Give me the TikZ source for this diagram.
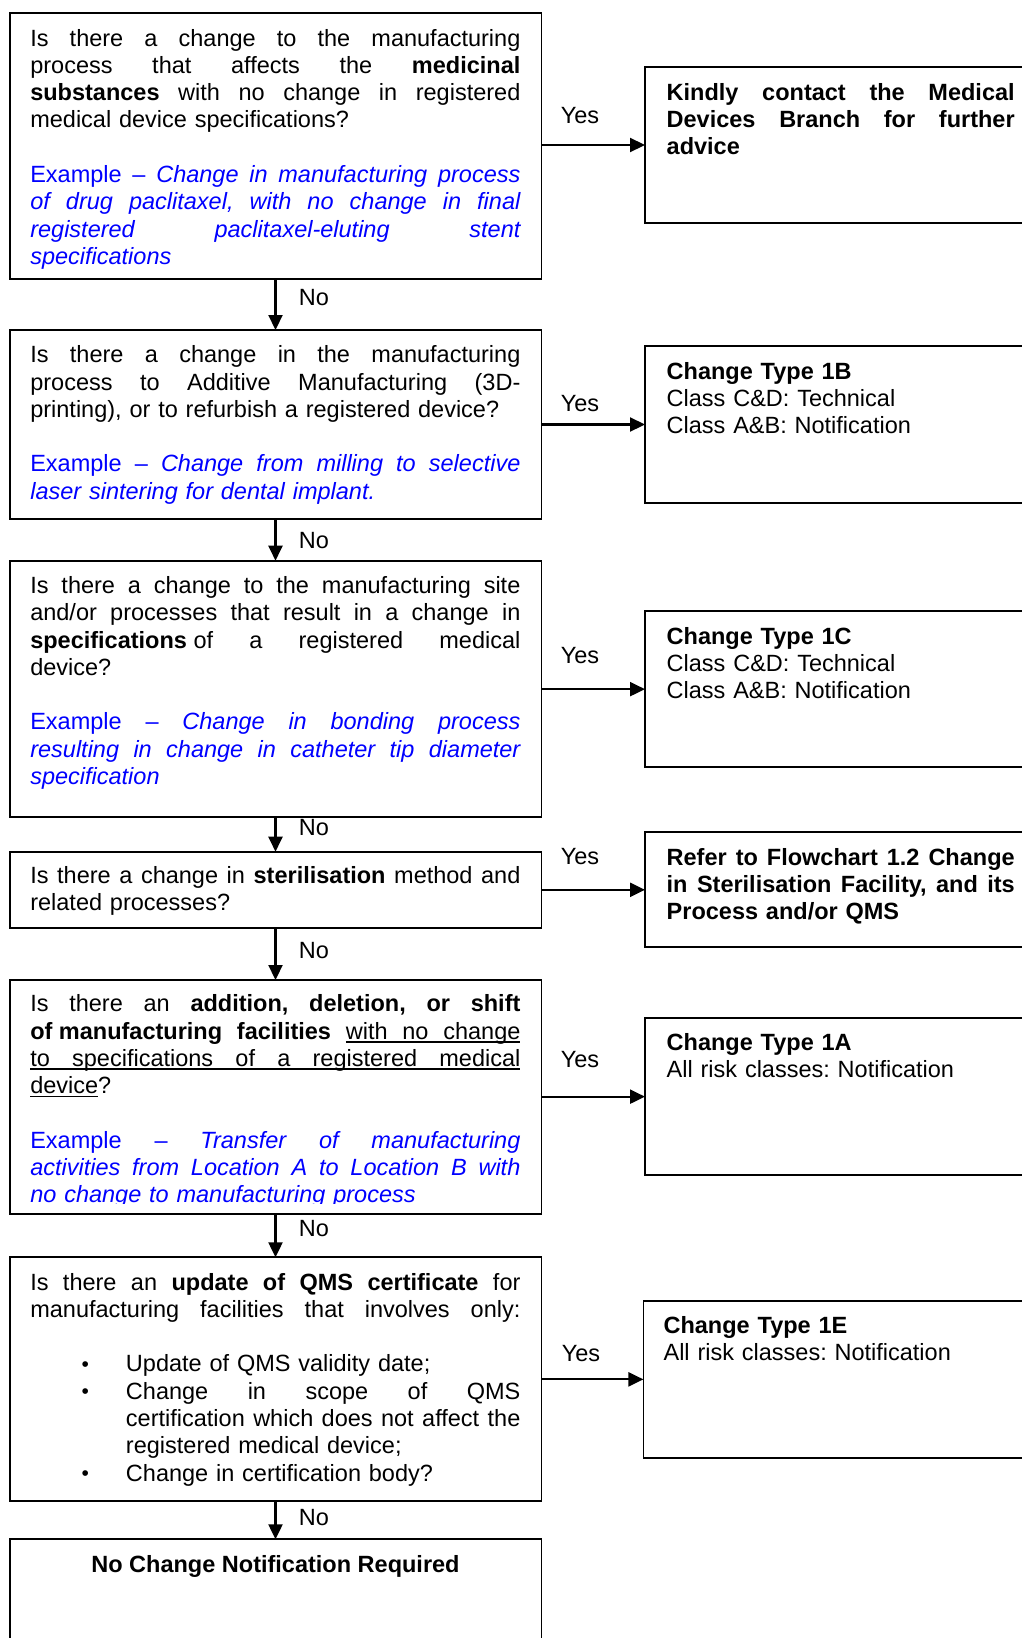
\documentclass[tikz,border=0pt]{standalone}
\usepackage{fontspec}
\setmainfont{Liberation Sans}
\usetikzlibrary{arrows.meta}
\definecolor{exblue}{RGB}{0,0,255}
% a line stretched to the full text width: every interword space grows equally
\newcommand\jline[1]{\makebox[\linewidth][s]{\spaceskip=\fontdimen2\font plus 1fil\relax\xspaceskip=\spaceskip #1}}
\newcommand\jwide[2]{\makebox[#1][s]{\spaceskip=\fontdimen2\font plus 1fil\relax\xspaceskip=\spaceskip #2}}
% blue example text, upright and italic
\newcommand\exa[1]{\textcolor{exblue}{#1}}
\newcommand\exi[1]{\textcolor{exblue}{\itshape #1}}
% underlined word and underlined stretchable gap at a fixed depth
\newcommand\ulword[1]{\leavevmode\setbox0\hbox{#1}\rlap{\rule[-3.4pt]{\wd0}{1.5pt}}\box0}
\newcommand\ulgap{\leaders\hrule height -1.9pt depth 3.4pt\hfill}
% bullet list lines with hanging indent
\newcommand\bul{\hspace*{51.2pt}\makebox[44.5pt][l]{\raisebox{0.5pt}{\fontsize{21pt}{21pt}\selectfont\textbullet}}}
\newcommand\bind{\hspace*{95.7pt}}
\newcommand\blank{\\[27.3pt]}
\newcommand\bodyfont{\fontsize{23.5pt}{27.3pt}\selectfont\frenchspacing}

\tikzset{
  box/.style={draw=black, line width=1.8pt, rectangle, inner sep=0pt, outer sep=0pt, anchor=north west},
  qtext/.style={anchor=base west, inner sep=0pt, outer sep=0pt, align=left, text width=490.1pt,
                font=\bodyfont},
  atext/.style={qtext, text width=348pt},
  lbl/.style={anchor=base, inner sep=0pt, font=\bodyfont},
  flow/.style={line width=2.2pt, -{Triangle[length=15pt,width=14pt]}},
}

\begin{document}
\begin{tikzpicture}[x=1pt,y=-1pt]
\useasboundingbox (0,0) rectangle (1022,1638);
\fill[white] (0,0) rectangle (1022,1638);
\clip (0,0) rectangle (1022,1638);

% question boxes (left column)
\node[box, minimum width=531.8pt, minimum height=266pt]   (q1) at (9.6,12.7)   {};
\node[box, minimum width=531.8pt, minimum height=189.3pt] (q2) at (9.6,330)    {};
\node[box, minimum width=531.8pt, minimum height=256pt]   (q3) at (9.6,560.7)  {};
\node[box, minimum width=531.8pt, minimum height=76.6pt]  (q4) at (9.6,851.7)  {};
\node[box, minimum width=531.8pt, minimum height=234pt]   (q5) at (9.6,980)    {};
\node[box, minimum width=531.8pt, minimum height=243.7pt] (q6) at (9.6,1257.3) {};
\node[box, minimum width=531.8pt, minimum height=130pt]   (q7) at (9.6,1539.3) {};

% outcome boxes (right column)
\node[box, minimum width=400pt, minimum height=156.6pt] (r1) at (645,66.7)   {};
\node[box, minimum width=400pt, minimum height=157.6pt] (r2) at (645,345.7)  {};
\node[box, minimum width=400pt, minimum height=156.3pt] (r3) at (645,611)    {};
\node[box, minimum width=400pt, minimum height=115pt]   (r4) at (645,832.3)  {};
\node[box, minimum width=400pt, minimum height=156.7pt] (r5) at (645,1018.3) {};
\node[box, minimum width=400pt, minimum height=156.7pt] (r6) at (643.4,1301) {};

% question texts
\node[qtext] (t1) at ([shift={(20.7,33.3)}]q1.north west) {%
\jline{Is there a change to the manufacturing}\\
\jline{process that affects the \textbf{medicinal}}\\
\jline{\textbf{substances} with no change in registered}\\
medical device specifications?\blank
\jline{\exa{Example – \textit{Change in manufacturing process}}}\\
\jline{\exi{of drug paclitaxel, with no change in final}}\\
\jline{\exi{registered paclitaxel-eluting stent}}\\
\exi{specifications}};

\node[qtext] (t2) at ([shift={(20.7,32.7)}]q2.north west) {%
\jline{Is there a change in the manufacturing}\\
\jline{process to Additive Manufacturing (3D-}\\
printing), or to refurbish a registered device?\blank
\jline{\exa{Example – \textit{Change from milling to selective}}}\\
\exi{laser sintering for dental implant.}};

\node[qtext] (t3) at ([shift={(20.7,32.7)}]q3.north west) {%
\jline{Is there a change to the manufacturing site}\\
\jline{and/or processes that result in a change in}\\
\jline{\mbox{\textbf{specifications} of} a registered medical}\\
device?\blank
\jline{\exa{Example – \textit{Change in bonding process}}}\\
\jline{\exi{resulting in change in catheter tip diameter}}\\
\exi{specification}};

\node[qtext] (t4) at ([shift={(20.7,31.8)}]q4.north west) {%
\jline{Is there a change in \textbf{sterilisation} method and}\\
related processes?};

\begin{scope}
\clip (0,0) rectangle (1022,1203);
\node[qtext] (t5) at ([shift={(20.7,31.8)}]q5.north west) {%
\jline{Is there an \textbf{addition, deletion, or shift}}\\
\jline{\mbox{\textbf{of manufacturing}}\hfill\textbf{facilities}\hfill\ulword{with}\ulgap\ulword{no}\ulgap\ulword{change}}\\
\jline{\ulword{to}\ulgap\ulword{specifications}\ulgap\ulword{of}\ulgap\ulword{a}\ulgap\ulword{registered}\ulgap\ulword{medical}}\\
\ulword{device}?\blank
\jline{\exa{Example – \textit{Transfer of manufacturing}}}\\
\jline{\exi{activities from Location A to Location B with}}\\
\exi{no change to manufacturing process}};
\end{scope}

\node[qtext] (t6) at ([shift={(20.7,32.7)}]q6.north west) {%
\jline{Is there an \textbf{update of QMS certificate} for}\\
\jline{manufacturing facilities that involves only:}\blank
\bul Update of QMS validity date;\\
\bul\jwide{394.4pt}{Change in scope of QMS}\\
\bind\jwide{394.4pt}{certification which does not affect the}\\
\bind registered medical device;\\
\bul Change in certification body?};

\node[lbl, font=\bodyfont\bfseries] (t7) at ([shift={(0,33.5)}]q7.north) {No Change Notification Required};

% outcome texts
\node[atext] (a1) at ([shift={(21.7,33.3)}]r1.north west) {\bfseries
\jline{Kindly contact the Medical}\\
\jline{Devices Branch for further}\\
advice};
\node[atext] (a2) at ([shift={(21.7,33.3)}]r2.north west) {%
\textbf{Change Type 1B}\\
Class C\&D: Technical\\
Class A\&B: Notification};
\node[atext] (a3) at ([shift={(21.7,33.3)}]r3.north west) {%
\textbf{Change Type 1C}\\
Class C\&D: Technical\\
Class A\&B: Notification};
\node[atext] (a4) at ([shift={(21.7,32.7)}]r4.north west) {\bfseries
\jline{Refer to Flowchart 1.2 Change}\\
\jline{in Sterilisation Facility, and its}\\
Process and/or QMS};
\node[atext] (a5) at ([shift={(21.7,32.3)}]r5.north west) {%
\textbf{Change Type 1A}\\
All risk classes: Notification};
\node[atext] (a6) at ([shift={(20.2,32)}]r6.north west) {%
\textbf{Change Type 1E}\\
All risk classes: Notification};

% "No" connectors
\draw[flow] (q1.south) -- (q2.north);
\draw[flow] (q2.south) -- (q3.north);
\draw[flow] (q3.south) -- (q4.north);
\draw[flow] (q4.south) -- (q5.north);
\draw[flow] (q5.south) -- (q6.north);
\draw[flow] (q6.south) -- (q7.north);

% "Yes" connectors
\draw[flow] (r1.west -| q1.east) -- (r1.west);
\draw[flow] (r2.west -| q2.east) -- (r2.west);
\draw[flow] (r3.west -| q3.east) -- (r3.west);
\draw[flow] (r4.west -| q4.east) -- (r4.west);
\draw[flow] (r5.west -| q5.east) -- (r5.west);
\draw[flow] (r6.west -| q6.east) -- (r6.west);

% connector labels
\node[lbl] (y1) at (580,123.4)  {Yes};
\node[lbl] (y2) at (580,411.1)  {Yes};
\node[lbl] (y3) at (580,663.4)  {Yes};
\node[lbl] (y4) at (580,864.4)  {Yes};
\node[lbl] (y5) at (580,1067.7) {Yes};
\node[lbl] (y6) at (581,1361.1) {Yes};

\node[lbl] (n1) at (314,305.1)  {No};
\node[lbl] (n2) at (314,548.7)  {No};
\node[lbl] (n3) at (314,835.1)  {No};
\node[lbl] (n4) at (314,958.3)  {No};
\node[lbl] (n5) at (314,1236.7) {No};
\node[lbl] (n6) at (314,1525.1) {No};
\end{tikzpicture}
\end{document}
